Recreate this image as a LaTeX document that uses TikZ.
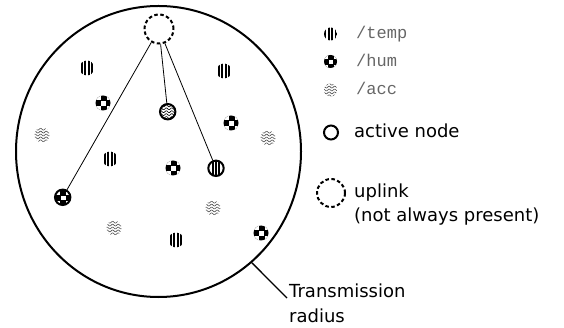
\documentclass[tikz,border=0pt]{standalone}
\usepackage{fontspec}
\setmainfont{DejaVu Sans}
\setmonofont{Liberation Mono}
\usetikzlibrary{shapes.geometric}
\definecolor{labelgray}{gray}{0.4}
\definecolor{accgray}{gray}{0.3}
\newcommand\icsc{1}
\tikzset{
  icon scale/.store in=\icsc, icon scale=1,
  sensor/.style={circle, inner sep=0pt, minimum size=15pt},
  active/.style={draw, line width=2pt, minimum size=15.4pt},
  tempicon/.style={sensor, path picture={
    \begin{scope}[shift={(path picture bounding box.center)}, scale=\icsc]
      \foreach \d in {-5.25,-1.75,1.75,5.25} \fill[black] (\d-1,-10) rectangle (\d+1,10);
    \end{scope}}},
  acttempicon/.style={sensor, active, path picture={
    \begin{scope}[shift={(path picture bounding box.center)}]
      \foreach \d in {-3.3,0,3.3} \fill[black] (\d-0.9,-10) rectangle (\d+0.9,10);
    \end{scope}}},
  humicon/.style={sensor, path picture={
    \begin{scope}[shift={(path picture bounding box.center)}, scale=\icsc]
      \fill[black] (0,0) circle (9);
      \foreach \i in {-2,...,2}{\foreach \j in {-2,...,2}{
        \pgfmathtruncatemacro\odd{mod(abs(\i+\j),2)}
        \ifnum\odd=0 \fill[white] (\i*5.2-2.2+0.6,\j*5.2-2.2+0.5) rectangle ++(4.4,4.4);\fi}}
    \end{scope}}},
  accicon/.style={sensor, path picture={
    \begin{scope}[shift={(path picture bounding box.center)}, scale=\icsc]
      \foreach \j in {-2,...,2} \draw[accgray, line width=0.6pt] plot[variable=\t, domain=-9:9, samples=41, smooth] (\t, {\j*2.9+0.9*sin(\t*65)});
    \end{scope}}},
  actaccicon/.style={sensor, active, path picture={
    \begin{scope}[shift={(path picture bounding box.center)}]
      \foreach \j in {-2,...,2} \draw[black, line width=0.6pt] plot[variable=\t, domain=-9:9, samples=41, smooth] (\t, {\j*2.9+0.9*sin(\t*65)});
    \end{scope}}},
  uplinknode/.style={circle, draw, line width=2pt, dash pattern=on 3.5pt off 2.5pt, inner sep=0pt, minimum size=29pt},
  link/.style={line width=0.8pt},
  lbl/.style={inner sep=0pt, font=\fontsize{18}{24}\selectfont},
  monolbl/.style={inner sep=0pt, anchor=base west, text=labelgray, font=\ttfamily\fontsize{17}{20}\selectfont},
  legicon/.style={icon scale=0.87, minimum size=13pt},
}
\begin{document}
\begin{tikzpicture}[x=1pt, y=-1pt]
\useasboundingbox (0,0) rectangle (564,328);
% transmission range
\node[ellipse, draw, line width=2pt, inner sep=0pt, minimum width=285pt, minimum height=291pt] (range) at (158.5,151.5) {};
% uplink
\node[uplinknode] (up) at (159,29) {};
% passive sensors
\node[tempicon] (t1) at (87,68) {};
\node[tempicon] (t2) at (224,71) {};
\node[tempicon] (t3) at (110,159) {};
\node[tempicon] (t4) at (176,240) {};
\node[humicon] (h1) at (103,103) {};
\node[humicon] (h2) at (231,123) {};
\node[humicon] (h3) at (173,168) {};
\node[humicon] (h4) at (261,233) {};
\node[accicon] (a1) at (42,135) {};
\node[accicon] (a2) at (268,138) {};
\node[accicon] (a3) at (213,208) {};
\node[accicon] (a4) at (114,228) {};
% active sensors
\node[humicon, active] (ahum) at (62.7,197.3) {};
\node[actaccicon] (aacc) at (167.7,111.7) {};
\node[acttempicon] (atemp) at (216,168.3) {};
\draw[link] (up) -- (ahum);
\draw[link] (up) -- (aacc);
\draw[link] (up) -- (atemp);
% transmission radius label
\coordinate (tre) at (287,298);
\draw[line width=1.3pt] (range.-50.7) -- (tre);
\node[lbl, anchor=north west, align=left, font=\fontsize{18}{25}\selectfont] (trl) at (289,283.5) {Transmission\\radius};
% legend
\node[tempicon, legicon] (lt) at (330.5,34) {};
\node[monolbl] (ltt) at (356,39) {/temp};
\node[humicon, legicon] (lh) at (330.5,61.5) {};
\node[monolbl] (lht) at (356,66.5) {/hum};
\node[accicon, legicon] (lac) at (330.5,90) {};
\node[monolbl] (lact) at (356,94.5) {/acc};
\node[circle, draw, line width=2pt, inner sep=0pt, minimum size=14pt] (la) at (331,132.5) {};
\node[lbl, anchor=base west] (lat) at (354,138) {active node};
\node[uplinknode, minimum size=28pt] (lu) at (331,193) {};
\node[lbl, anchor=north west, align=left] (lut) at (354,183.5) {uplink\\(not always present)};
\end{tikzpicture}
\end{document}
